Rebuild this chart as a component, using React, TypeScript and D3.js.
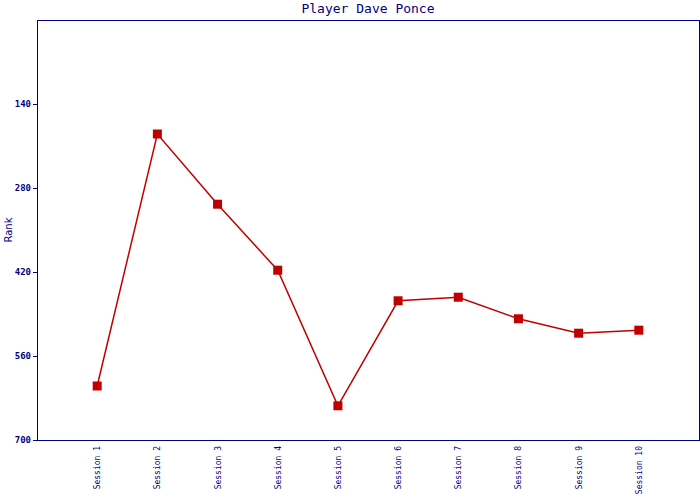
import React from "react";
import * as d3 from "d3";

const sessions = ["Session 1","Session 2","Session 3","Session 4","Session 5","Session 6","Session 7","Session 8","Session 9","Session 10"];
const ranks = [610, 190, 307, 417, 643, 468, 462, 498, 522, 517];
const yTicks = [140, 280, 420, 560, 700];

export default function App() {
  const W = 700, H = 500;
  const left = 37, right = 699, top = 20, bottom = 440;
  const step = (right - left) / (sessions.length + 1);
  const x = d3.scalePoint<string>().domain(sessions).range([left + step, right - step]);
  const y = d3.scaleLinear().domain([0, 700]).range([top, bottom]);
  const line = d3.line<number>().x((_, i) => x(sessions[i])!).y(d => y(d));
  const navy = "#000080";
  const red = "#c00000";
  const mono = "'DejaVu Sans Mono', 'Liberation Mono', monospace";
  return (
    <svg width={W} height={H} style={{ position: "absolute", left: 0, top: 0 }}>
      <rect width={W} height={H} fill="#fff" />
      <text x={(left + right) / 2} y={13} textAnchor="middle" fill={navy} fontFamily={mono} fontSize={13}>Player Dave Ponce</text>
      <rect x={left} y={top} width={right - left} height={bottom - top} fill="none" stroke={navy} strokeWidth={1} shapeRendering="crispEdges" />
      {yTicks.map(t => (
        <g key={t}>
          <line x1={left - 4} x2={left} y1={y(t)} y2={y(t)} stroke={navy} shapeRendering="crispEdges" />
          <text x={left - 6} y={y(t) + 3} textAnchor="end" fill={navy} fontFamily={mono} fontSize={9} fontWeight="bold">{t}</text>
        </g>
      ))}
      <text transform={`translate(12,${(top + bottom) / 2}) rotate(-90)`} textAnchor="middle" fill={navy} fontFamily="'DejaVu Sans', sans-serif" fontSize={10}>Rank</text>
      {sessions.map(s => (
        <text key={s} transform={`translate(${x(s)! + 3},${bottom + 6}) rotate(-90)`} textAnchor="end" fill={navy} fontFamily={mono} fontSize={8}>{s}</text>
      ))}
      <path d={line(ranks)!} fill="none" stroke={red} strokeWidth={1.5} />
      {ranks.map((r, i) => (
        <rect key={i} x={x(sessions[i])! - 4.5} y={y(r) - 4.5} width={9} height={9} fill={red} />
      ))}
    </svg>
  );
}
